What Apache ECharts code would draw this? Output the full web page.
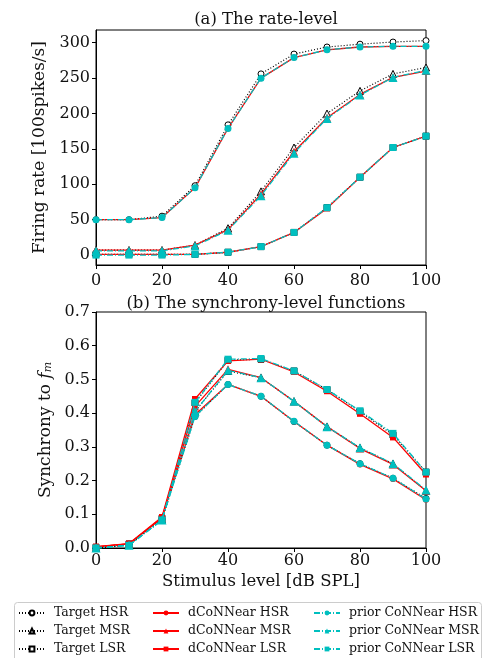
<!DOCTYPE html>
<html><head><meta charset="utf-8">
<script src="https://cdn.jsdelivr.net/npm/echarts@6/dist/echarts.min.js"></script>
<style>html,body{margin:0;padding:0;background:#fff}#c{width:483px;height:658px}</style>
</head><body><div id="c"></div>
<script>
const levels = [0,10,20,30,40,50,60,70,80,90,100];
const xTicks = [0,20,40,60,80,100];
const rateTicks = [0,50,100,150,200,250,300];

// (a) rate-level
const rateTargetHSR = [50,50,55,98,184,256,284,294,298,301,303];
const rateTargetMSR = [7,7,7,14,38,90,152,200,232,256,265];
const rateTargetLSR = [1,1,1,1,4,12,32,67,110,152,168];
const rateDHSR = [50,50,53,95,179,250,279,290,294,295,295];
const rateDMSR = [7,7,7,14,36,86,146,194,227,251,260];
const rateDLSR = [1,1,1,1,4,12,32,66,110,152,168];
const ratePHSR = [50,50,53,95,179,250,279,290,294,295,295];
const ratePMSR = [6,6,6,13,35,84,144,193,226,251,261];
const ratePLSR = [0,0,0,1,4,12,32,67,110,152,168];

// (b) synchrony-level
const syncTargetHSR = [0.0,0.01,0.085,0.39,0.485,0.45,0.375,0.305,0.25,0.207,0.147];
const syncTargetMSR = [0.0,0.01,0.085,0.405,0.525,0.505,0.435,0.36,0.297,0.25,0.17];
const syncTargetLSR = [0.002,0.012,0.088,0.43,0.557,0.56,0.525,0.47,0.405,0.335,0.225];
const syncDHSR = [0.003,0.012,0.09,0.395,0.485,0.45,0.375,0.305,0.248,0.205,0.143];
const syncDMSR = [0.003,0.012,0.09,0.42,0.53,0.505,0.435,0.36,0.295,0.248,0.17];
const syncDLSR = [0.004,0.013,0.092,0.442,0.555,0.56,0.522,0.465,0.398,0.328,0.218];
const syncPHSR = [0.0,0.008,0.083,0.39,0.485,0.45,0.376,0.305,0.25,0.207,0.145];
const syncPMSR = [0.0,0.008,0.083,0.405,0.527,0.505,0.435,0.36,0.297,0.25,0.172];
const syncPLSR = [0.0,0.008,0.083,0.432,0.56,0.562,0.525,0.47,0.407,0.34,0.225];

const names = ['Target HSR','Target MSR','Target LSR','dCoNNear HSR','dCoNNear MSR','dCoNNear LSR','prior CoNNear HSR','prior CoNNear MSR','prior CoNNear LSR'];
const rateSets = [rateTargetHSR,rateTargetMSR,rateTargetLSR,rateDHSR,rateDMSR,rateDLSR,ratePHSR,ratePMSR,ratePLSR];
const syncSets = [syncTargetHSR,syncTargetMSR,syncTargetLSR,syncDHSR,syncDMSR,syncDLSR,syncPHSR,syncPMSR,syncPLSR];
const shapes = ['circle','triangle','rect'];
const FONT = 'DejaVu Serif';

function styleFor(i){
  const grp = Math.floor(i/3), sh = shapes[i%3];
  if (grp===0) return {symbol:sh, symbolSize: sh==='triangle'?7:6,
    itemStyle:{color:'#fff',borderColor:'#000',borderWidth:1},
    lineStyle:{color:'#000',width:1.2,type:[1,2]}, z:2};
  if (grp===1) return {symbol:sh, symbolSize: sh==='triangle'?8:6,
    itemStyle:{color:'#ff0000',borderColor:'#ff0000',borderWidth:0},
    lineStyle:{color:'#ff0000',width:1.3,type:'solid'}, z:3};
  return {symbol:sh, symbolSize: sh==='triangle'?9:7,
    itemStyle:{color:'#00bfbf',borderColor:'#00bfbf',borderWidth:0},
    lineStyle:{color:'#00bfbf',width:1.3,type:[6,2,1,2]}, z:4};
}
const series = [];
[rateSets, syncSets].forEach((sets, ax) => {
  sets.forEach((vals, i) => {
    const st = styleFor(i);
    series.push(Object.assign({
      name: names[i], type:'line', xAxisIndex:ax, yAxisIndex:ax,
      showSymbol:true, animation:false,
      data: levels.map((x,k)=>[x, vals[k]])
    }, st));
  });
});

const axisCommon = {
  axisLine:{show:true,onZero:false,lineStyle:{color:'#000',width:1}},
  axisTick:{show:true,inside:false,length:4,lineStyle:{color:'#000'}},
  splitLine:{show:false},
  axisLabel:{color:'#111',fontFamily:FONT,fontSize:16,margin:6}
};
function xAxis(gi, withName){
  return Object.assign({}, axisCommon, {
    type:'value', gridIndex:gi, min:0, max:100, interval:20,
    axisLabel:Object.assign({}, axisCommon.axisLabel, {margin: withName ? 5 : 8}),
    name: withName ? 'Stimulus level [dB SPL]' : '',
    nameLocation:'middle', nameGap:25,
    nameTextStyle:{fontFamily:FONT,fontSize:16.5,color:'#111'}
  });
}
const legendBase = {orient:'vertical', itemWidth:26, itemHeight:6, itemGap:4, padding:0,
  textStyle:{fontFamily:FONT,fontSize:12.5,color:'#111',padding:[0,0,0,4],lineHeight:14}, top:606};

const chart = echarts.init(document.getElementById('c'), null, {renderer:'canvas'});
chart.setOption({
  backgroundColor:'#fff',
  animation:false,
  title:[
    {text:'(a) The rate-level', left:261, top:6, textAlign:'center',
     textStyle:{fontFamily:FONT,fontSize:16.5,fontWeight:'normal',color:'#111'}},
    {text:'(b) The synchrony-level functions', left:261, top:290, textAlign:'center',
     textStyle:{fontFamily:FONT,fontSize:16.5,fontWeight:'normal',color:'#111'}}
  ],
  grid:[
    {left:96, width:330, top:30, height:235, show:true, borderColor:'#000', borderWidth:1, backgroundColor:'transparent'},
    {left:96, width:330, top:312, height:236, show:true, borderColor:'#000', borderWidth:1, backgroundColor:'transparent'}
  ],
  xAxis:[xAxis(0,false), xAxis(1,true)],
  yAxis:[
    Object.assign({}, axisCommon, {type:'value', gridIndex:0, min:-14, max:318,
      axisLabel:Object.assign({}, axisCommon.axisLabel, {customValues:rateTicks}),
      axisTick:Object.assign({}, axisCommon.axisTick, {customValues:rateTicks}),
      name:'Firing rate [100spikes/s]', nameLocation:'middle', nameGap:36, nameRotate:90,
      nameTextStyle:{fontFamily:FONT,fontSize:17,color:'#111'}}),
    Object.assign({}, axisCommon, {type:'value', gridIndex:1, min:0, max:0.7, interval:0.1,
      axisLabel:Object.assign({}, axisCommon.axisLabel, {formatter:v=>v.toFixed(1)}),
      name:'Synchrony to {i|f}{s|m}', nameLocation:'middle', nameGap:36, nameRotate:90,
      nameTextStyle:{fontFamily:FONT,fontSize:17,color:'#111',
        rich:{i:{fontFamily:FONT,fontSize:17,fontStyle:'italic',color:'#111'},
              s:{fontFamily:FONT,fontSize:11,fontStyle:'italic',color:'#111',verticalAlign:'bottom',padding:[6,0,0,0]}}}})
  ],
  legend:[
    Object.assign({}, legendBase, {left:18, data:names.slice(0,3)}),
    Object.assign({}, legendBase, {left:152, data:names.slice(3,6)}),
    Object.assign({}, legendBase, {left:313, data:names.slice(6,9)})
  ],
  graphic:[
    {type:'rect', shape:{x:14.5,y:602.5,width:467,height:60,r:3}, style:{fill:'#fff',stroke:'#ccc',lineWidth:1}, z:-1}
  ],
  series: series
});
</script></body></html>
